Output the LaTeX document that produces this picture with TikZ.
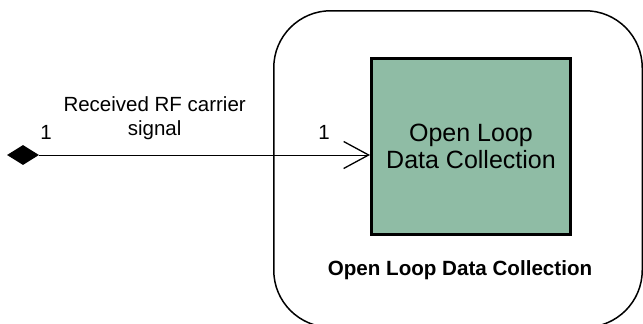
\documentclass[tikz,border=0pt]{standalone}
\usepackage{fontspec}
\setmainfont{Liberation Sans}
\usetikzlibrary{arrows.meta,positioning,shapes.geometric}
\definecolor{olgreen}{RGB}{143,188,165}

\begin{document}
\begin{tikzpicture}[x=1pt, y=-1pt,
    lbl/.style={inner sep=0pt, font=\fontsize{20.5}{24}\selectfont, align=center},
    flow/.style={line width=0.9pt, -{Straight Barb[length=25pt, width=27pt, line width=1.3pt]}}]
        \useasboundingbox (0,0) rectangle (643,324);
        % container
        \node[draw, line width=1.5pt, rounded corners=57pt, minimum width=368.5pt, minimum height=316.5pt] (olgroup) at (458,169) {};
        \node[inner sep=0pt, font=\fontsize{20.6}{24}\selectfont\bfseries] (grouptitle) at (460,270.5) {Open Loop Data Collection};
        % activity
        \node[draw, line width=3pt, fill=olgreen, minimum width=199pt, minimum height=176pt, align=center, font=\fontsize{25}{27}\selectfont] (olbox) at (471,146.5) {Open Loop\\Data Collection};
        \node[diamond, fill, inner sep=0pt, minimum width=32pt, minimum height=20pt] (src) at (23,155) {};
        \draw[flow] (src.east) -- (src.east -| olbox.west)
            node[lbl, pos=0.021, above=15pt] (srcmult) {1}
            node[lbl, pos=0.349, above=15pt] (signame) {Received RF carrier\\signal}
            node[lbl, pos=0.861, above=15pt] (dstmult) {1};
\end{tikzpicture}
\end{document}
